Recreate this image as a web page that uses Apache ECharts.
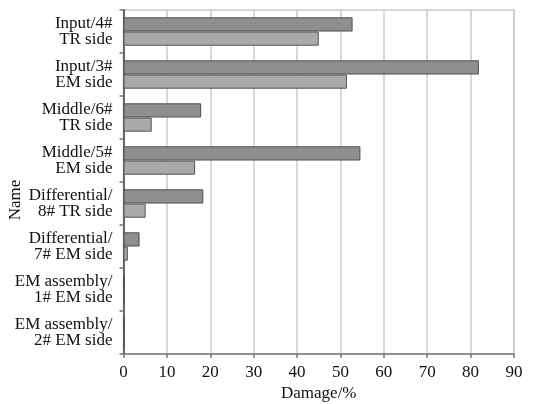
<!DOCTYPE html>
<html>
<head>
<meta charset="utf-8">
<script src="https://cdn.jsdelivr.net/npm/echarts@6/dist/echarts.min.js"></script>
<style>html,body{margin:0;padding:0;background:#fff;}#c{width:551px;height:404px;}</style>
</head>
<body>
<div id="c"></div>
<script>
var categories = [
  'Input/4#\nTR side',
  'Input/3#\nEM side',
  'Middle/6#\nTR side',
  'Middle/5#\nEM side',
  'Differential/\n8# TR side',
  'Differential/\n7# EM side',
  'EM assembly/\n1# EM side',
  'EM assembly/\n2# EM side'
];
var seriesDark = [52.8, 81.9, 17.9, 54.6, 18.4, 3.7, 0.2, 0.2];
var seriesLight = [45.0, 51.5, 6.5, 16.5, 5.1, 1.0, 0.1, 0.1];
var xTicks = [0, 10, 20, 30, 40, 50, 60, 70, 80, 90];

var font = '"Liberation Serif", "Times New Roman", serif';
var chart = echarts.init(document.getElementById('c'), null, {renderer: 'canvas'});
chart.setOption({
  animation: false,
  backgroundColor: '#fff',
  grid: {left: 123.5, right: 37, top: 10, bottom: 50, show: true, borderColor: '#cccccc', borderWidth: 1.5,
         containLabel: false, outerBoundsMode: 'none'},
  xAxis: {
    type: 'value',
    min: xTicks[0], max: xTicks[xTicks.length - 1], interval: 10,
    name: 'Damage/%', nameLocation: 'middle', nameGap: 31, nameMoveOverlap: false,
    nameTextStyle: {fontFamily: font, fontSize: 17, color: '#111'},
    axisLine: {show: true, lineStyle: {color: '#777', width: 1.5}},
    axisTick: {show: true, length: 4, lineStyle: {color: '#777', width: 1.5}},
    axisLabel: {fontFamily: font, fontSize: 17, color: '#111', margin: 10},
    splitLine: {show: true, lineStyle: {color: '#cccccc', width: 1.5}}
  },
  yAxis: {
    type: 'category', data: categories, inverse: true,
    name: 'Name', nameLocation: 'middle', nameGap: 99, nameMoveOverlap: false,
    nameTextStyle: {fontFamily: font, fontSize: 17, color: '#111', padding: [0, 36, 0, 0]},
    axisLine: {show: true, lineStyle: {color: '#666', width: 2}},
    axisTick: {show: true, length: 4, lineStyle: {color: '#777', width: 1.5}},
    axisLabel: {fontFamily: font, fontSize: 17, color: '#111', margin: 11, lineHeight: 16, align: 'right'},
    splitLine: {show: false}
  },
  series: [
    {
      type: 'bar', data: seriesDark, barGap: '0%', barCategoryGap: '34%',
      itemStyle: {color: '#8f8f8f', borderColor: '#4d4d4d', borderWidth: 1}
    },
    {
      type: 'bar', data: seriesLight, barGap: '0%', barCategoryGap: '34%',
      itemStyle: {color: '#a9a9a9', borderColor: '#555555', borderWidth: 1}
    }
  ]
});
</script>
</body>
</html>
